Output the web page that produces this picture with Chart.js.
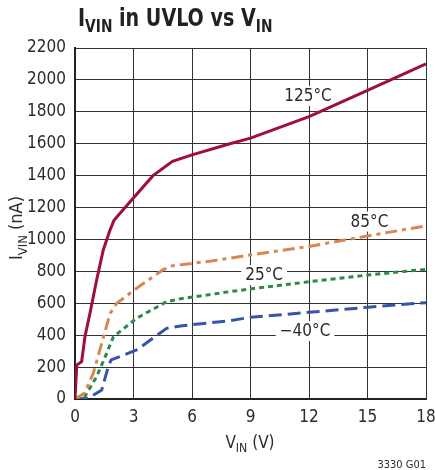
<!DOCTYPE html>
<html lang="en">
<head>
<meta charset="UTF-8">
<script src="https://cdn.jsdelivr.net/npm/chart.js"></script>
<title>IVIN in UVLO vs VIN</title>
<style>
  body { margin: 0; background: #fff; }
  #wrap { width: 435px; height: 470px; position: relative; }
</style>
</head>
<body>
<div id="wrap"><canvas id="uvlo" width="435" height="470"></canvas></div>
<script>
// values, V in volts, I in nA
const vin125 = [0, 0.09, 0.34, 0.51, 0.77, 1.11, 1.45, 1.8, 2.0, 2.77, 4.0, 5.0, 6.0, 7.9, 9.0, 12, 15, 18];
const ivin125 = [0, 213, 234, 390, 539, 746, 934, 1060, 1120, 1229, 1400, 1490, 1530, 1598, 1635, 1770, 1935, 2100];

const vin85 = [0, 0.5, 0.94, 1.37, 1.8, 2.14, 3.16, 4.5, 5.0, 7.0, 9.0, 12, 15, 18];
const ivin85 = [0, 38, 163, 349, 537, 600, 694, 809, 835, 865, 903, 956, 1022, 1085];

const vin25 = [0, 0.5, 1.11, 1.62, 1.97, 3.16, 4.7, 5.4, 7.95, 9.0, 12, 15, 18];
const ivin25 = [0, 15, 140, 286, 390, 506, 610, 628, 673, 690, 735, 777, 813];

const vinM40 = [0, 0.68, 1.37, 1.7, 1.85, 3.16, 4.7, 5.4, 7.95, 9.0, 12, 15, 18];
const ivinM40 = [0, 5, 56, 200, 245, 307, 443, 458, 491, 512, 543, 575, 604];

const xTicks = [0, 3, 6, 9, 12, 15, 18];
const yTicks = [0, 200, 400, 600, 800, 1000, 1200, 1400, 1600, 1800, 2000, 2200];

const curveLabels = [
  { text: '125°C', x: 11.95, y: 1900 },
  { text: '85°C', x: 15.1, y: 1112 },
  { text: '25°C', x: 9.7, y: 777 },
  { text: '\u221240°C', x: 11.8, y: 426 }
];

const fontFam = '"Liberation Sans Narrow", "DejaVu Sans Condensed", "Liberation Sans", sans-serif';

function pts(xs, ys) {
  return xs.map((v, i) => ({ x: v, y: ys[i] }));
}

// draws text pieces, some as subscripts
function drawParts(ctx, parts, size, x, y, align, weight) {
  let total = 0;
  parts.forEach(p => {
    ctx.font = (weight || 'normal') + ' ' + (p.sub ? size * 0.72 : size) + 'px ' + fontFam;
    p.w = ctx.measureText(p.t).width;
    total += p.w;
  });
  let cx = align === 'center' ? x - total / 2 : x;
  ctx.textAlign = 'left';
  ctx.textBaseline = 'alphabetic';
  parts.forEach(p => {
    ctx.font = (weight || 'normal') + ' ' + (p.sub ? size * 0.72 : size) + 'px ' + fontFam;
    ctx.fillText(p.t, cx, y + (p.sub ? size * 0.25 : 0));
    cx += p.w;
  });
}

const extras = {
  id: 'extras',
  beforeDatasetsDraw(chart) {
    // curve labels sit on white boxes that hide the grid
    const ctx = chart.ctx;
    const xs = chart.scales.x, ys = chart.scales.y;
    ctx.save();
    ctx.font = '17px ' + fontFam;
    ctx.textAlign = 'center';
    ctx.textBaseline = 'middle';
    curveLabels.forEach(l => {
      const px = xs.getPixelForValue(l.x), py = ys.getPixelForValue(l.y);
      const w = ctx.measureText(l.text).width;
      ctx.fillStyle = '#fff';
      ctx.fillRect(px - w / 2 - 4, py - 10, w + 8, 20);
      ctx.fillStyle = '#2b2b2b';
      ctx.fillText(l.text, px, py + 1);
    });
    ctx.restore();
  },
  afterDatasetsDraw(chart) {
    const ctx = chart.ctx;
    ctx.save();

    // title, squeezed to look condensed
    ctx.fillStyle = '#222';
    ctx.save();
    ctx.translate(78, 0);
    ctx.scale(0.85, 1);
    drawParts(ctx, [{ t: 'I' }, { t: 'VIN', sub: true }, { t: ' in UVLO vs V' }, { t: 'IN', sub: true }], 25, 0, 26, 'left', 'bold');
    ctx.restore();

    // x axis title
    ctx.fillStyle = '#2b2b2b';
    drawParts(ctx, [{ t: 'V' }, { t: 'IN', sub: true }, { t: ' (V)' }], 17, 250, 448, 'center');

    // y axis title
    ctx.save();
    ctx.translate(22, 228);
    ctx.rotate(-Math.PI / 2);
    drawParts(ctx, [{ t: 'I' }, { t: 'VIN', sub: true }, { t: ' (nA)' }], 18, 0, 0, 'center');
    ctx.restore();

    ctx.font = '11px ' + fontFam;
    ctx.textAlign = 'right';
    ctx.textBaseline = 'alphabetic';
    ctx.fillText('3330 G01', 426, 468);
    ctx.restore();
  }
};

new Chart(document.getElementById('uvlo'), {
  type: 'line',
  data: {
    datasets: [
      { label: '125°C', data: pts(vin125, ivin125), borderColor: '#9e0f3a', borderWidth: 3 },
      { label: '85°C', data: pts(vin85, ivin85), borderColor: '#d98650', borderWidth: 3, borderDash: [12, 5, 4, 5] },
      { label: '25°C', data: pts(vin25, ivin25), borderColor: '#2e8a48', borderWidth: 3, borderDash: [5, 4] },
      { label: '-40°C', data: pts(vinM40, ivinM40), borderColor: '#3655a8', borderWidth: 3, borderDash: [13, 6] }
    ]
  },
  options: {
    responsive: false,
    animation: false,
    devicePixelRatio: 1,
    elements: { point: { radius: 0 }, line: { tension: 0, fill: false } },
    layout: { padding: { left: 0, top: 48, right: 9, bottom: 0 } },
    plugins: { legend: { display: false }, tooltip: { enabled: false }, title: { display: false } },
    scales: {
      x: {
        type: 'linear',
        min: 0, max: 18,
        afterBuildTicks: s => { s.ticks = xTicks.map(v => ({ value: v })); },
        afterFit: s => { s.height = 71; s.paddingLeft = 0; s.paddingRight = 0; },
        grid: { color: '#333', lineWidth: 1, drawTicks: false },
        border: { color: '#222', width: 2 },
        ticks: { color: '#2b2b2b', padding: 8, font: { family: fontFam, size: 17 }, callback: v => String(v) }
      },
      y: {
        min: 0, max: 2200,
        afterBuildTicks: s => { s.ticks = yTicks.map(v => ({ value: v })); },
        afterFit: s => { s.width = 75; s.paddingTop = 0; s.paddingBottom = 0; },
        grid: { color: '#333', lineWidth: 1, drawTicks: false },
        border: { color: '#222', width: 2 },
        ticks: { color: '#2b2b2b', padding: 9, font: { family: fontFam, size: 17 }, callback: v => String(v) }
      }
    }
  },
  plugins: [extras]
});
</script>
</body>
</html>
